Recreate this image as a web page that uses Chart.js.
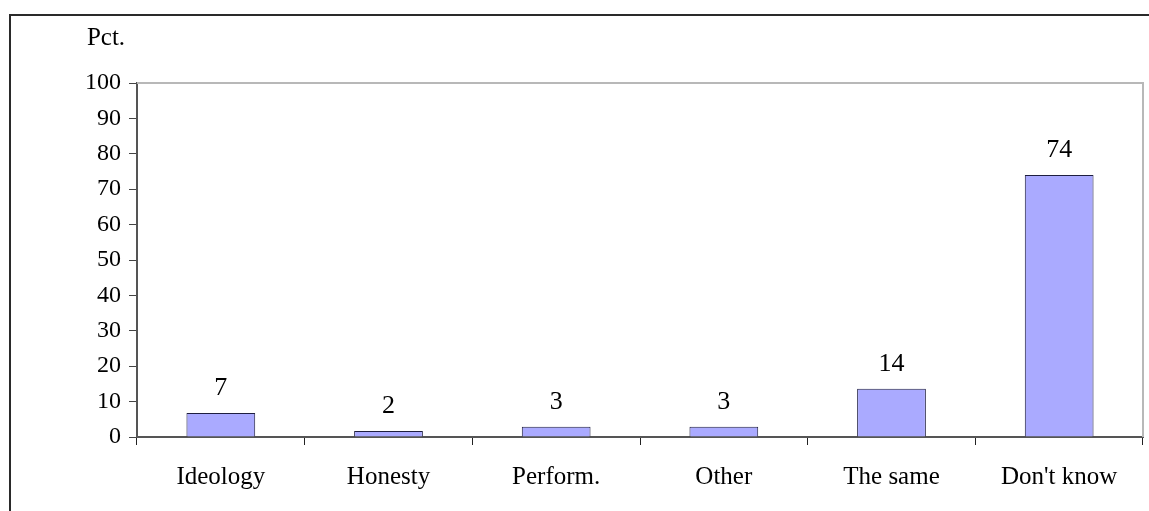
<!DOCTYPE html>
<html>
<head>
<meta charset="utf-8">
<script src="https://cdn.jsdelivr.net/npm/chart.js@4"></script>
<style>
  html, body { margin: 0; padding: 0; background: #fff; overflow: hidden; }
  #wrap { position: relative; width: 1149px; height: 511px; }
  #frame { position: absolute; left: 9px; top: 14px; width: 1200px; height: 600px;
           border-left: 2px solid #2a2a2a; border-top: 2px solid #2a2a2a; box-sizing: border-box; }
  canvas { position: absolute; left: 0; top: 0; }
</style>
</head>
<body>
<div id="wrap">
  <div id="frame"></div>
  <canvas id="c" width="1149" height="511"></canvas>
</div>
<script>
const categories = ["Ideology", "Honesty", "Perform.", "Other", "The same", "Don't know"];
const values = [6.8, 1.7, 2.9, 2.9, 13.6, 74.0];
const valueLabels = ["7", "2", "3", "3", "14", "74"];
const yTitle = "Pct.";

const FONT = "'Liberation Serif', 'Times New Roman', serif";

const extras = {
  id: 'extras',
  afterDraw(chart) {
    const ctx = chart.ctx;
    const a = chart.chartArea;
    ctx.save();
    // plot area top/right border
    ctx.strokeStyle = '#b8b8b8';
    ctx.lineWidth = 2;
    ctx.beginPath();
    ctx.moveTo(a.left, a.top);
    ctx.lineTo(a.right, a.top);
    ctx.lineTo(a.right, a.bottom);
    ctx.stroke();
    // value labels
    ctx.fillStyle = '#000';
    ctx.font = "26px " + FONT;
    ctx.textAlign = 'center';
    ctx.textBaseline = 'alphabetic';
    const meta = chart.getDatasetMeta(0);
    meta.data.forEach((bar, i) => {
      ctx.fillText(valueLabels[i], bar.x, bar.y - 18);
    });
    // y title
    ctx.font = "25px " + FONT;
    ctx.textAlign = 'center';
    ctx.fillText(yTitle, a.left - 31, a.top - 38);
    ctx.restore();
  }
};

new Chart(document.getElementById('c'), {
  type: 'bar',
  data: {
    labels: categories,
    datasets: [{
      data: values,
      backgroundColor: '#aaaaff',
      borderColor: '#1e1e40',
      borderWidth: 1,
      barPercentage: 0.41,
      categoryPercentage: 1.0
    }]
  },
  options: {
    responsive: false,
    animation: false,
    layout: { padding: { left: 0, top: 83, right: 6, bottom: 0 } },
    plugins: { legend: { display: false }, tooltip: { enabled: false } },
    scales: {
      x: {
        grid: { display: true, drawOnChartArea: false, tickLength: 8, color: '#222', offset: true },
        border: { display: true, color: '#555', width: 2 },
        ticks: { color: '#000', font: { family: FONT, size: 25 }, padding: 17, maxRotation: 0 },
        afterFit(scale) { scale.height = 74; }
      },
      y: {
        min: 0, max: 100,
        grid: { display: true, drawOnChartArea: false, tickLength: 8, color: '#444' },
        border: { display: true, color: '#555', width: 2 },
        ticks: { stepSize: 10, color: '#000', font: { family: FONT, size: 24 }, padding: 8 },
        afterFit(scale) { scale.width = 137; }
      }
    }
  },
  plugins: [extras]
});
</script>
</body>
</html>
